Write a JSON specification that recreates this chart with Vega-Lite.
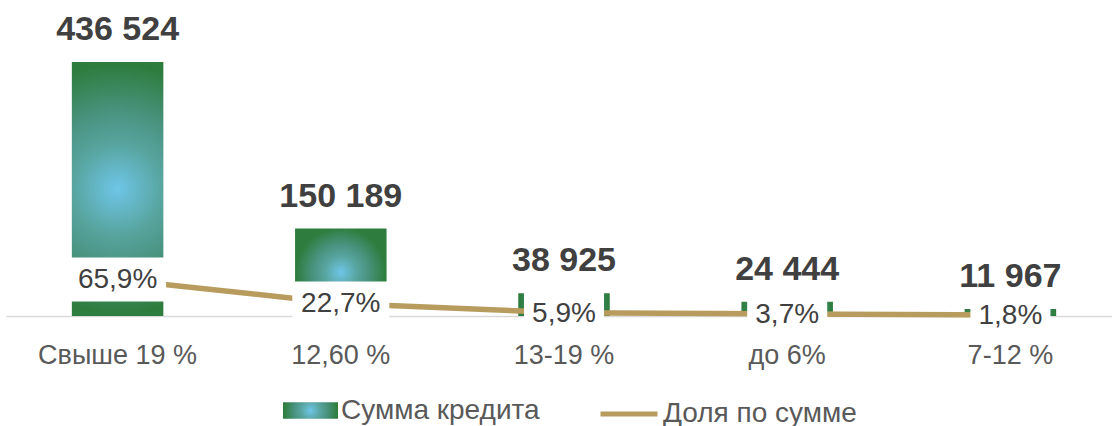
{
  "$schema": "https://vega.github.io/schema/vega-lite/v6.json",
  "width": 1116,
  "height": 316,
  "padding": {"left": 6, "top": 0, "right": 0, "bottom": 0},
  "background": "#ffffff",
  "config": {
    "view": {"stroke": null},
    "font": "Liberation Sans",
    "locale": {"number": {"decimal": ",", "thousands": " ", "grouping": [3], "currency": ["", " ₽"]}},
    "legend": {"orient": "none", "direction": "horizontal", "labelFontSize": 28, "labelColor": "#595959", "labelFont": "Liberation Sans", "labelOffset": 3, "padding": 0, "labelLimit": 400}
  },
  "data": {"values": [
    {"cat": "Свыше 19 %", "amount": 436524, "share": 0.659},
    {"cat": "12,60 %", "amount": 150189, "share": 0.227},
    {"cat": "13-19 %", "amount": 38925, "share": 0.059},
    {"cat": "до 6%", "amount": 24444, "share": 0.037},
    {"cat": "7-12 %", "amount": 11967, "share": 0.018}
  ]},
  "encoding": {
    "x": {"field": "cat", "type": "nominal", "sort": null,
      "scale": {"paddingInner": 0, "paddingOuter": 0},
      "axis": {"title": null, "labelAngle": 0, "ticks": false, "domainColor": "#d9d9d9", "domainWidth": 1.5, "labelFontSize": 27, "labelColor": "#595959", "labelPadding": 26, "labelFont": "Liberation Sans"}}
  },
  "layer": [
    {
      "mark": {"type": "bar", "width": {"band": 0.41},
        "fill": {"gradient": "radial", "x1": 0.5, "y1": 0.5, "r1": 0, "x2": 0.5, "y2": 0.5, "r2": 0.7, "stops": [{"offset": 0, "color": "#6ec6e8"}, {"offset": 0.25, "color": "#58a5a0"}, {"offset": 0.42, "color": "#4a9482"}, {"offset": 0.7, "color": "#2e7d3e"}, {"offset": 1, "color": "#2e7d3e"}]}},
      "encoding": {
        "y": {"field": "amount", "type": "quantitative", "scale": {"domain": [0, 543070], "nice": false, "zero": true}, "axis": null},
        "opacity": {"datum": "Сумма кредита", "type": "nominal", "scale": {"type": "ordinal", "range": [1]},
          "legend": {"title": null, "legendX": 277, "legendY": 383, "symbolType": "M-1,-0.3 L1,-0.3 L1,0.3 L-1,0.3 Z", "symbolSize": 3025, "symbolStrokeWidth": 0,
            "encode": {"symbols": {"update": {"fill": {"value": {"gradient": "radial", "x1": 0.5, "y1": 0.5, "r1": 0, "x2": 0.5, "y2": 0.5, "r2": 0.6, "stops": [{"offset": 0, "color": "#6ec6e8"}, {"offset": 0.5, "color": "#4a9482"}, {"offset": 1, "color": "#2e7d3e"}]}}, "opacity": {"value": 1}, "strokeWidth": {"value": 0}}}}}}
      }
    },
    {
      "mark": {"type": "line", "strokeWidth": 5.5},
      "encoding": {
        "y": {"field": "share", "type": "quantitative", "scale": {"domain": [0, 5.69], "nice": false}, "axis": null},
        "stroke": {"datum": "Доля по сумме", "type": "nominal", "scale": {"range": ["#b89c5e"]},
          "legend": {"title": null, "legendX": 592, "legendY": 383, "symbolType": "stroke", "symbolSize": 3249, "symbolStrokeWidth": 5, "symbolStrokeColor": "#b89c5e"}}
      }
    },
    {
      "transform": [{"filter": "datum.share >= 0.1"}],
      "mark": {"type": "point", "shape": "M-1,-0.4536 L1,-0.4536 L1,0.4536 L-1,0.4536 Z", "size": 9409, "filled": true, "fill": "#ffffff", "opacity": 1, "strokeWidth": 0},
      "encoding": {
        "y": {"field": "share", "type": "quantitative", "scale": {"domain": [0, 5.69], "nice": false}, "axis": null}
      }
    },
    {
      "transform": [{"filter": "datum.share < 0.1"}],
      "mark": {"type": "point", "shape": "M-0.825,-0.4536 L0.825,-0.4536 L0.825,0.4536 L-0.825,0.4536 Z", "size": 9409, "filled": true, "fill": "#ffffff", "opacity": 1, "strokeWidth": 0},
      "encoding": {
        "y": {"field": "share", "type": "quantitative", "scale": {"domain": [0, 5.69], "nice": false}, "axis": null}
      }
    },
    {
      "mark": {"type": "text", "fontSize": 28, "color": "#404040", "baseline": "middle", "dy": 1},
      "encoding": {
        "y": {"field": "share", "type": "quantitative", "scale": {"domain": [0, 5.69], "nice": false}, "axis": null},
        "text": {"field": "share", "type": "quantitative", "format": ".1%"}
      }
    },
    {
      "mark": {"type": "text", "fontSize": 34, "fontWeight": "bold", "color": "#404040", "baseline": "alphabetic", "dy": -22},
      "encoding": {
        "y": {"field": "amount", "type": "quantitative", "scale": {"domain": [0, 543070], "nice": false, "zero": true}, "axis": null},
        "text": {"field": "amount", "type": "quantitative", "format": ",.0f"}
      }
    }
  ],
  "resolve": {"scale": {"y": "independent"}}
}
